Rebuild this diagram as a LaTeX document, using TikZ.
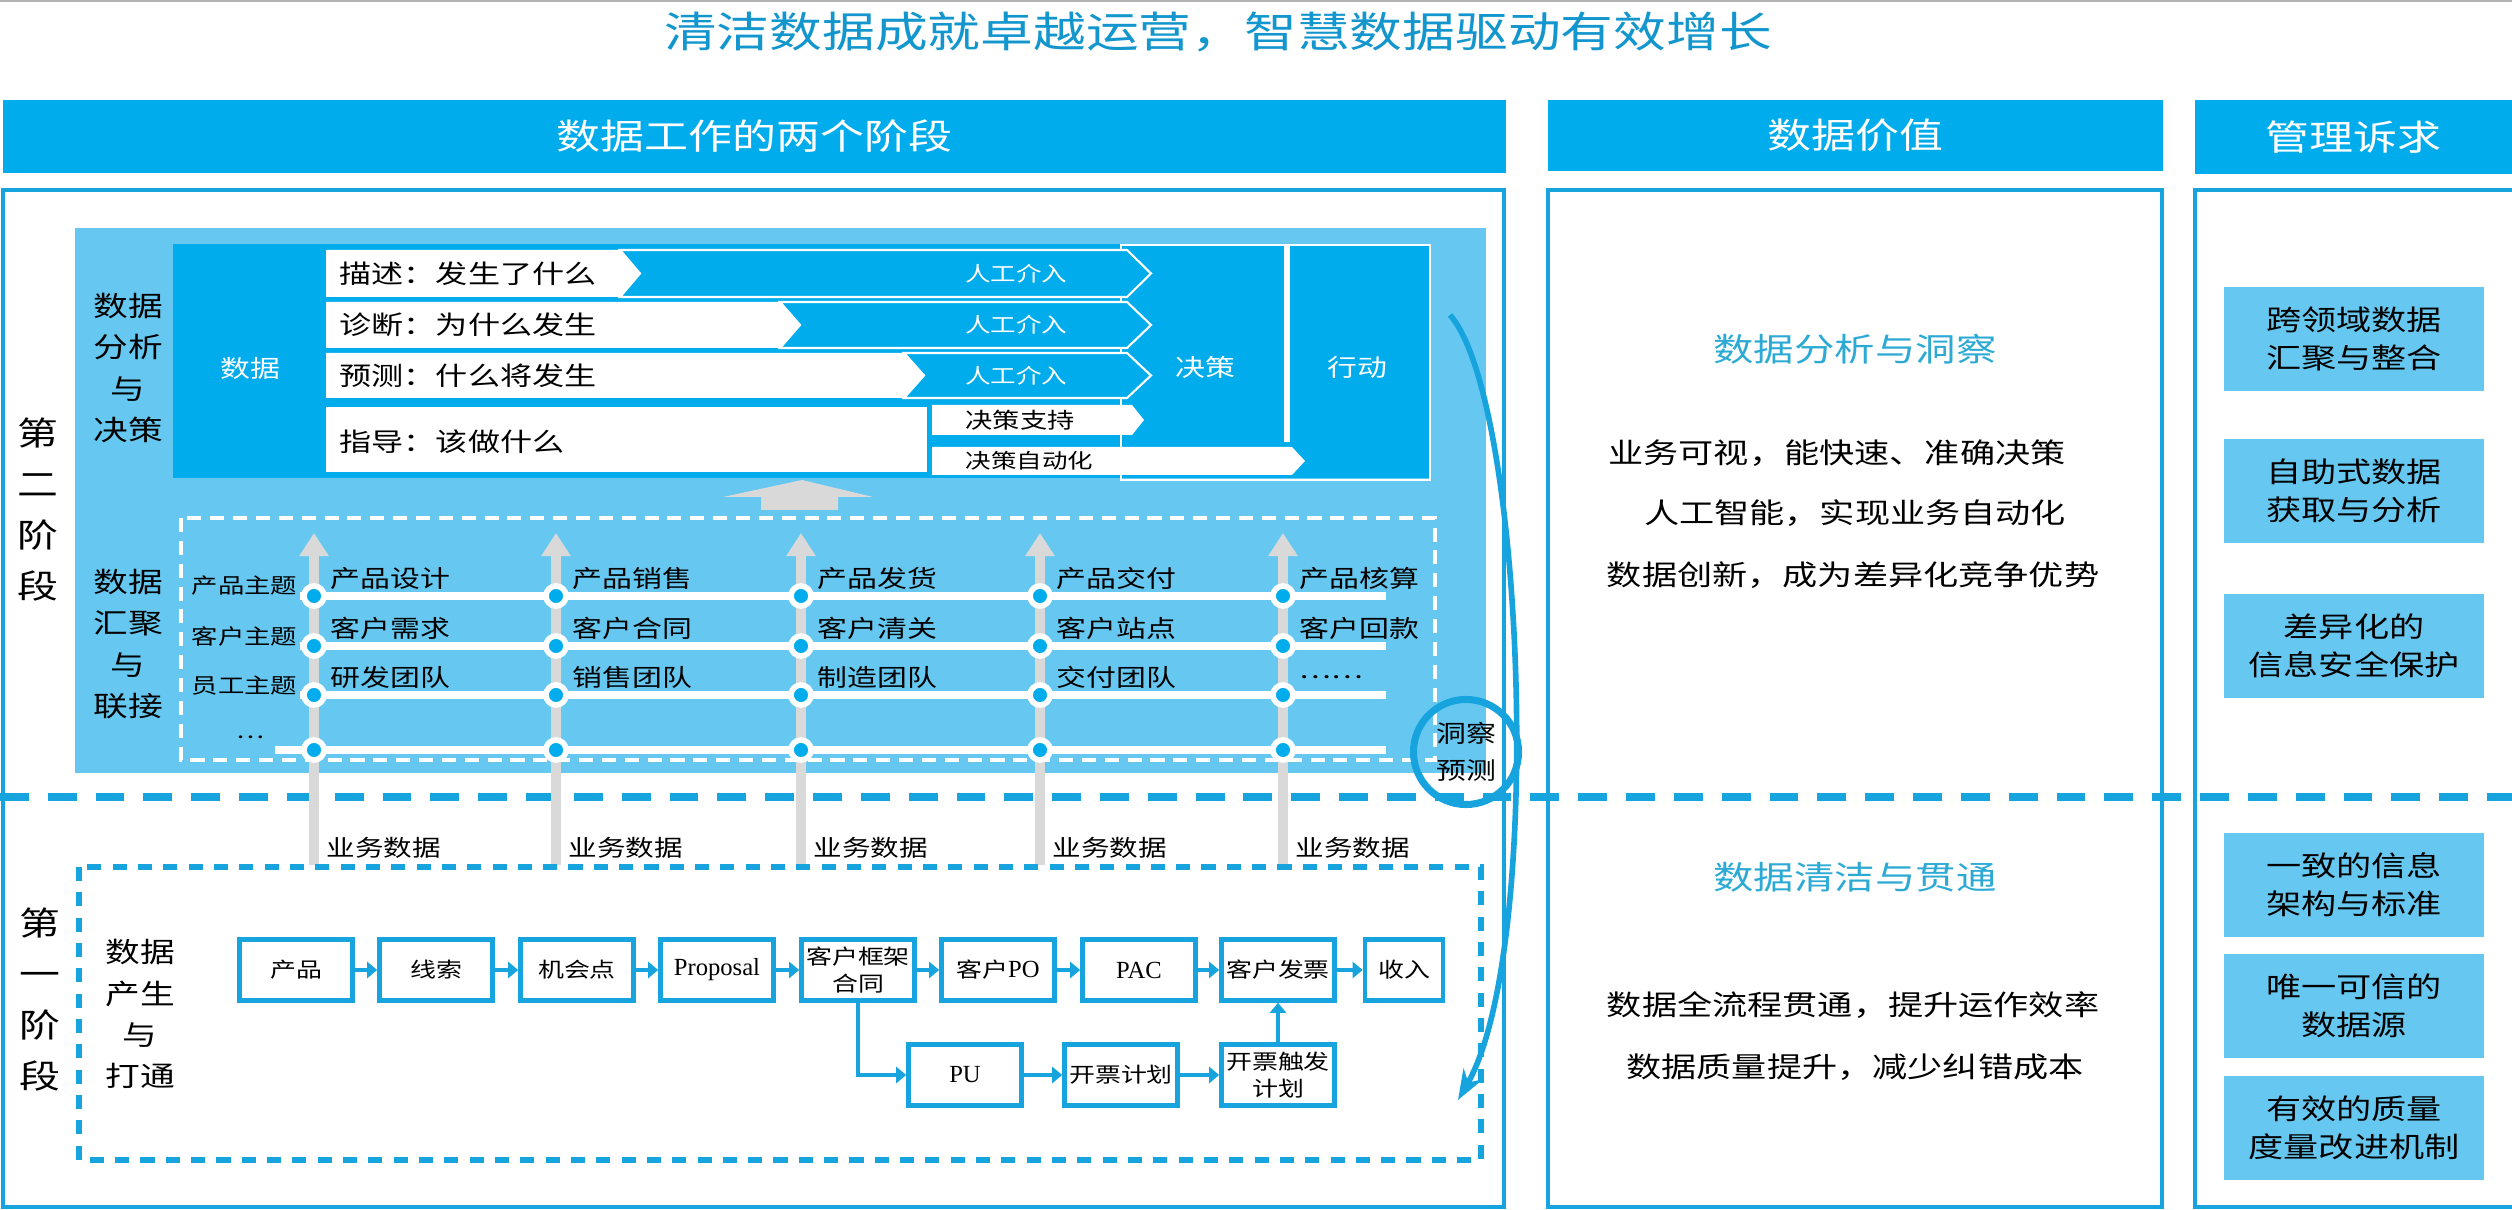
\documentclass[tikz,border=0pt]{standalone}
\usepackage{fontspec}
\setmainfont{Noto Sans CJK SC}[FakeStretch=1.25]
\newfontfamily\latinserif{Liberation Serif}
\usepackage{xcolor}
\usetikzlibrary{arrows.meta}

\definecolor{hdrblue}{RGB}{0,172,236}
\definecolor{lineblue}{RGB}{22,163,222}
\definecolor{lightblue}{RGB}{102,200,240}
\definecolor{titleblue}{RGB}{18,150,205}
\definecolor{headtext}{RGB}{45,170,212}
\definecolor{arrowgray}{RGB}{217,217,217}

\newcommand\fs[2]{\fontsize{#1pt}{#2pt}\selectfont}

\begin{document}
\begin{tikzpicture}[x=0.01cm, y=-0.01cm,
    titletext/.style={text=titleblue, font=\fs{12}{14}, inner sep=0},
    hdr/.style={fill=hdrblue, text=white, font=\fs{10}{12}, inner sep=0},
    panel/.style={draw=lineblue, line width=1.1pt},
    stagelbl/.style={align=center, font=\fs{9.3}{14.5}, inner sep=0},
    sidelbl/.style={align=center, font=\fs{7.9}{11.7}, inner sep=0},
    rowtxt/.style={anchor=west, font=\fs{7.3}{9}, inner sep=0},
    humtxt/.style={text=white, font=\fs{5.8}{7}, inner sep=0},
    whitetxt/.style={text=white, font=\fs{6.8}{8}, inner sep=0},
    smalltxt/.style={anchor=west, font=\fs{6}{7}, inner sep=0},
    celltxt/.style={anchor=west, font=\fs{6.8}{8}, inner sep=0},
    topiclbl/.style={anchor=east, font=\fs{6}{7}, inner sep=0},
    biztxt/.style={anchor=west, font=\fs{6.5}{8}, inner sep=0},
    flowbox/.style={draw=lineblue, line width=1.3pt, fill=white, minimum width=1.13cm,
        minimum height=0.61cm, inner sep=0, align=center, font=\fs{5.9}{7.5}},
    flowarrow/.style={lineblue, line width=1.3pt, -{Triangle[length=0.1cm, width=0.16cm]}},
    valhead/.style={text=headtext, font=\fs{9.2}{11}, inner sep=0},
    valtxt/.style={font=\fs{8}{10}, inner sep=0},
    needbox/.style={fill=lightblue, minimum width=2.6cm, minimum height=1.03cm,
        align=center, font=\fs{8}{10.8}, inner sep=0}]
\useasboundingbox (0,0) rectangle (2512,1210);
\draw[gray!60, line width=0.6pt] (0,1) -- (2512,1);

% title and column heads
\node[titletext] (title) at (1218,32) {清洁数据成就卓越运营，智慧数据驱动有效增长};
\node[hdr, minimum width=15.03cm, minimum height=0.73cm] (hdrwork) at (754.5,136.5) {数据工作的两个阶段};
\node[hdr, minimum width=6.15cm, minimum height=0.71cm] (hdrvalue) at (1855.5,135.5) {数据价值};
\node[hdr, minimum width=3.17cm, minimum height=0.74cm] (hdrneed) at (2353.5,137) {管理诉求};

\draw[panel] (3,190) rectangle (1504,1207);
\draw[panel] (1548,190) rectangle (2162,1207);
\draw[panel] (2195,190) rectangle (2540,1207);

% stage two: analysis block
\fill[lightblue] (75,228) rectangle (1486,773);
\fill[hdrblue] (173,244) rectangle (1430,478);
\draw[white, line width=0.7pt] (1121,245) rectangle (1430,480);
\draw[white, line width=1.6pt] (1287,245) -- (1287,442);
\node[whitetxt] (data) at (250,368) {数据};
\node[whitetxt] (decide) at (1205,367) {决策};
\node[whitetxt] (act) at (1357,367) {行动};

\foreach \t/\b/\w/\txt [count=\i] in {250/297/640/描述：发生了什么, 302/348/800/诊断：为什么发生, 353/398/924/预测：什么将发生} {
  \pgfmathsetmacro\m{(\t+\b)/2}
  \draw[white, line width=0.6pt, fill=hdrblue] (\w-20,\t) -- (1127,\t) -- (1151,\m) -- (1127,\b) -- (\w-20,\b) -- (\w,\m) -- cycle;
  \fill[white] (326,\t) -- (\w-20,\t) -- (\w,\m) -- (\w-20,\b) -- (326,\b) -- cycle;
  \node[rowtxt] (row\i) at (339,\m) {\txt};
  \node[humtxt] (human\i) at (1016,\m) {人工介入};
}
\fill[white] (326,407) rectangle (927,472);
\node[rowtxt] (row4) at (339,442) {指导：该做什么};
\fill[white] (932,405) -- (1132,405) -- (1144,420) -- (1132,435) -- (932,435) -- cycle;
\fill[white] (932,447) -- (1292,447) -- (1305,461) -- (1292,475) -- (932,475) -- cycle;
\node[smalltxt, font=\fs{6.2}{7}] (support) at (965,420) {决策支持};
\node[smalltxt, font=\fs{5.8}{7}] (auto) at (965,461) {决策自动化};
\fill[arrowgray] (802,480) -- (873,497) -- (838,497) -- (838,510) -- (761,510) -- (761,497) -- (723,497) -- cycle;

\node[stagelbl] (stage2) at (38,510) {第\\二\\阶\\段};
\node[sidelbl] (lblanalysis) at (128,368) {数据\\分析\\与\\决策};
\node[sidelbl] (lbljoin) at (128,644) {数据\\汇聚\\与\\联接};

% stage two: data lake grid
\draw[white, line width=1pt, dash pattern=on 4pt off 2.5pt] (181,518) rectangle (1435,760);
\draw[lineblue, line width=2.3pt, dash pattern=on 8.2pt off 5.4pt] (0,797) -- (2512,797);
\foreach \x [count=\i] in {314,556,801,1040,1283} {
  \coordinate (src\i) at (\x,865);
  \coordinate (top\i) at (\x,533);
  \draw[arrowgray, line width=2.8pt, -{Triangle[length=0.23cm, width=0.28cm]}] (src\i) -- (top\i);
}
\foreach \y in {596,646,695}
  \draw[white, line width=2.5pt] (300,\y) -- (1386,\y);
\draw[white, line width=2.5pt] (275,750) -- (1386,750);
\foreach \x in {314,556,801,1040,1283}
  \foreach \y in {596,646,695,750}
    \draw[white, line width=1.6pt, fill=hdrblue] (\x,\y) circle (0.1cm);
\node[topiclbl] (tprod) at (298,586) {产品主题};
\node[topiclbl] (tcust) at (298,636) {客户主题};
\node[topiclbl] (tstaff) at (298,686) {员工主题};
\node[font=\fs{6}{7}, inner sep=0] (tmore) at (250,737) {…};
\foreach \x/\a/\b/\c [count=\i] in {314/产品设计/客户需求/研发团队, 556/产品销售/客户合同/销售团队, 801/产品发货/客户清关/制造团队, 1040/产品交付/客户站点/交付团队, 1283/产品核算/客户回款/……} {
  \node[celltxt] (cella\i) at (\x+16,578) {\a};
  \node[celltxt] (cellb\i) at (\x+16,628) {\b};
  \node[celltxt] (cellc\i) at (\x+16,677) {\c};
  \node[biztxt] (biz\i) at (\x+12,848) {业务数据};
}

% stage one: flow
\node[stagelbl] (stage1) at (40,1000) {第\\一\\阶\\段};
\node[sidelbl] (lblflow) at (140,1014) {数据\\产生\\与\\打通};
\draw[lineblue, line width=1.8pt, dash pattern=on 4pt off 3.2pt] (79,867) rectangle (1481,1160);
\foreach \x/\n/\t in {296/fprod/产品, 436/flead/线索, 577/fopp/机会点, 717/fprop/{\fs{7}{8}\latinserif Proposal}, 858/fframe/{客户框架\\合同}, 998/fpo/{客户{\fs{7}{8}\latinserif PO}}, 1139/fpac/{\fs{7}{8}\latinserif PAC}, 1278/finv/客户发票}
  \node[flowbox] (\n) at (\x,970) {\t};
\node[flowbox, minimum width=0.78cm] (frev) at (1404,970) {收入};
\node[flowbox] (fpu) at (965,1075) {\fs{7}{8}\latinserif PU};
\node[flowbox] (fbill) at (1121,1075) {开票计划};
\node[flowbox] (ftrig) at (1278,1075) {开票触发\\计划};
\foreach \a/\b in {fprod/flead, flead/fopp, fopp/fprop, fprop/fframe, fframe/fpo, fpo/fpac, fpac/finv, finv/frev, fpu/fbill, fbill/ftrig, ftrig/finv}
  \draw[flowarrow] (\a) -- (\b);
\draw[flowarrow] (fframe.south) |- (fpu.west);

% insight loop
\node[circle, draw=lineblue, line width=2pt, minimum size=1.05cm, inner sep=0, align=center, font=\fs{6.8}{10.5}] (insight) at (1466,752) {洞察\\预测};
\coordinate (loopstart) at (1450,315);
\coordinate (loopend) at (1458,1100);
\draw[lineblue, line width=1.6pt, -{Stealth[length=0.3cm, width=0.22cm]}] (loopstart) .. controls (1525,400) and (1545,950) .. (loopend);

% data value column
\node[valhead] (valtop) at (1855,349) {数据分析与洞察};
\node[valtxt] (val1) at (1837,453) {业务可视，能快速、准确决策};
\node[valtxt] (val2) at (1855,513) {人工智能，实现业务自动化};
\node[valtxt] (val3) at (1853,575) {数据创新，成为差异化竞争优势};
\node[valhead] (valbot) at (1855,877) {数据清洁与贯通};
\node[valtxt] (val4) at (1853,1005) {数据全流程贯通，提升运作效率};
\node[valtxt] (val5) at (1855,1067) {数据质量提升，减少纠错成本};

% management needs column
\foreach \y/\t [count=\i] in {339/{跨领域数据\\汇聚与整合}, 491/{自助式数据\\获取与分析}, 646/{差异化的\\信息安全保护}, 885/{一致的信息\\架构与标准}, 1006/{唯一可信的\\数据源}, 1128/{有效的质量\\度量改进机制}}
  \node[needbox] (need\i) at (2354,\y) {\t};
\end{tikzpicture}
\end{document}
